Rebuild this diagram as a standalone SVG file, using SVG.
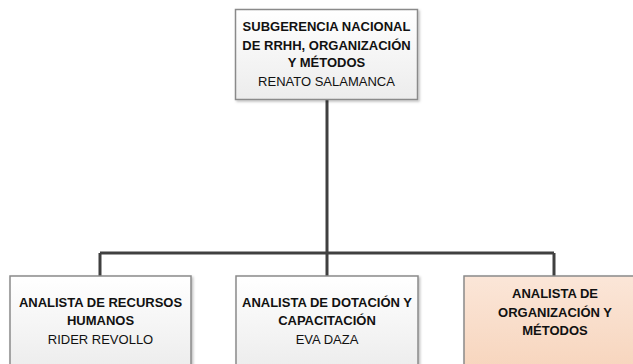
<svg xmlns="http://www.w3.org/2000/svg" width="633" height="364" viewBox="0 0 633 364">
<defs>
<linearGradient id="gGray" x1="0" y1="0" x2="0" y2="1">
<stop offset="0" stop-color="#ffffff"/>
<stop offset="1" stop-color="#ececec"/>
</linearGradient>
<linearGradient id="gPeach" x1="0" y1="0" x2="0" y2="1">
<stop offset="0" stop-color="#fbe6d8"/>
<stop offset="1" stop-color="#f7d5bd"/>
</linearGradient>
<filter id="sh" x="-10%" y="-10%" width="130%" height="130%">
<feDropShadow dx="1.5" dy="1.5" stdDeviation="1.2" flood-color="#000" flood-opacity="0.25"/>
</filter>
<style>
.box{stroke:#8a8a8a;stroke-width:1.5;filter:url(#sh)}
.gray{fill:url(#gGray)}
.peach{fill:url(#gPeach)}
.t{font-family:"Liberation Sans",Arial,sans-serif;font-size:13px;fill:#111;text-anchor:middle}
.b{font-weight:bold}
.conn{stroke:#404040;stroke-width:3;fill:none}
</style>
</defs>
<g id="connectors">
<path class="conn" d="M327 100V253M100 253H554M100 253V276M327 253V276M554 253V276"/>
</g>
<g id="n0">
<rect class="box gray" x="235.5" y="9.5" width="182" height="90"/>
<text class="t b" x="326.5" y="31">SUBGERENCIA NACIONAL</text>
<text class="t b" x="326.5" y="49.5">DE RRHH, ORGANIZACIÓN</text>
<text class="t b" x="326.5" y="67">Y MÉTODOS</text>
<text class="t" x="326.5" y="85.5">RENATO SALAMANCA</text>
</g>
<g id="n1">
<rect class="box gray" x="10" y="276" width="181" height="95"/>
<text class="t b" x="100.5" y="306.5">ANALISTA DE RECURSOS</text>
<text class="t b" x="100.5" y="325">HUMANOS</text>
<text class="t" x="100.5" y="344">RIDER REVOLLO</text>
</g>
<g id="n2">
<rect class="box gray" x="236" y="276" width="182" height="95"/>
<text class="t b" x="327" y="306.5">ANALISTA DE DOTACIÓN Y</text>
<text class="t b" x="327" y="325">CAPACITACIÓN</text>
<text class="t" x="327" y="344">EVA DAZA</text>
</g>
<g id="n3">
<rect class="box peach" x="464" y="276" width="182" height="95"/>
<text class="t b" x="555" y="298">ANALISTA DE</text>
<text class="t b" x="555" y="316.5">ORGANIZACIÓN Y</text>
<text class="t b" x="555" y="335">MÉTODOS</text>
</g>
</svg>
